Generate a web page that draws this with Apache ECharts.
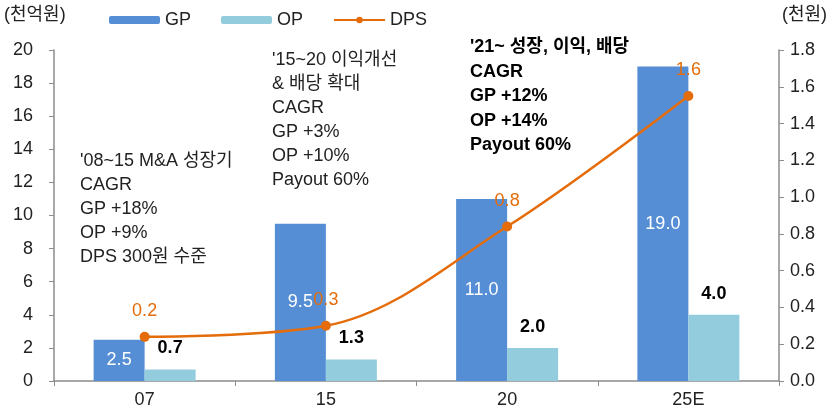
<!DOCTYPE html>
<html>
<head>
<meta charset="utf-8">
<script src="https://cdn.jsdelivr.net/npm/echarts@6/dist/echarts.min.js"></script>
<style>
html,body{margin:0;padding:0;background:#fff;}
#chart{width:829px;height:415px;}
</style>
</head>
<body>
<div id="chart"></div>
<script>
// 데이터
var categories = ['07', '15', '20', '25E'];
var gpData = [2.5, 9.5, 11.0, 19.0];
var opData = [0.7, 1.3, 2.0, 4.0];
var dpsData = [0.24, 0.30, 0.84, 1.55];
var leftTicks = [0, 20, 2];
var rightTicks = [0, 1.8, 0.2];
var note1 = ["'08~15 M&A 성장기", 'CAGR', 'GP +18%', 'OP +9%', 'DPS 300원 수준'];
var note2 = ["'15~20 이익개선", '& 배당 확대', 'CAGR', 'GP +3%', 'OP +10%', 'Payout 60%'];
var note3 = ["'21~ 성장, 이익, 배당", 'CAGR', 'GP +12%', 'OP +14%', 'Payout 60%'];

var FONT = 'Liberation Sans, Arial, "Noto Sans CJK KR", sans-serif';
var axisColor = '#8c8c8c';

var myChart = echarts.init(document.getElementById('chart'));
var option = {
	backgroundColor: '#fff',
	textStyle: { fontFamily: FONT },
	animation: false,
	grid: {
		left: 54,
		right: 50,
		top: 50,
		bottom: 34
	},
	legend: {
		top: 6,
		left: 104,
		itemWidth: 51,
		itemHeight: 8,
		itemGap: 30,
		textStyle: { fontSize: 18, color: '#222', fontFamily: FONT },
		data: ['GP', 'OP', 'DPS']
	},
	graphic: [
		{ type: 'text', left: 4, top: 6, style: { text: '(천억원)', fill: '#222', font: '18px ' + FONT } },
		{ type: 'text', right: 2, top: 6, style: { text: '(천원)', fill: '#222', font: '18px ' + FONT } },
		{ type: 'text', left: 80, top: 149, style: { text: note1.join('\n'), font: '18px ' + FONT, fill: '#222', lineHeight: 24 } },
		{ type: 'text', left: 272, top: 48, style: { text: note2.join('\n'), font: '18px ' + FONT, fill: '#222', lineHeight: 24 } },
		{ type: 'text', left: 470, top: 35, style: { text: note3.join('\n'), font: 'bold 18px ' + FONT, fill: '#000', lineHeight: 24.5 } }
	],
	xAxis: [{
		type: 'category',
		data: categories,
		axisLine: { lineStyle: { color: axisColor, width: 1.5 } },
		axisTick: { show: true, length: 5, lineStyle: { color: axisColor } },
		axisLabel: { fontSize: 18, color: '#222', margin: 10, fontFamily: FONT }
	}],
	yAxis: [
		{
			type: 'value',
			min: leftTicks[0],
			max: leftTicks[1],
			interval: leftTicks[2],
			splitLine: { show: false },
			axisLine: { show: true, lineStyle: { color: axisColor, width: 1.5 } },
			axisTick: { show: true, length: 5, lineStyle: { color: axisColor } },
			axisLabel: { fontSize: 18, color: '#222', margin: 21, fontFamily: FONT }
		},
		{
			type: 'value',
			min: rightTicks[0],
			max: rightTicks[1],
			interval: rightTicks[2],
			splitLine: { show: false },
			axisLine: { show: true, lineStyle: { color: axisColor, width: 1.5 } },
			axisTick: { show: true, length: 5, lineStyle: { color: axisColor } },
			axisLabel: {
				fontSize: 18, color: '#222', margin: 11, fontFamily: FONT,
				formatter: function (v) { return v.toFixed(1); }
			}
		}
	],
	series: [
		{
			name: 'GP',
			type: 'bar',
			data: gpData,
			barWidth: 51,
			barGap: '0%',
			itemStyle: { color: '#558ED5' },
			label: {
				show: true, position: 'inside', color: '#fff', fontSize: 18, fontFamily: FONT,
				formatter: function (p) { return p.value.toFixed(1); }
			}
		},
		{
			name: 'OP',
			type: 'bar',
			data: opData,
			barWidth: 51,
			barGap: '0%',
			itemStyle: { color: '#93CDDD' },
			label: {
				show: true, position: 'top', distance: 12, color: '#000', fontSize: 18, fontWeight: 'bold', fontFamily: FONT,
				formatter: function (p) { return p.value.toFixed(1); }
			}
		},
		{
			name: 'DPS',
			type: 'line',
			yAxisIndex: 1,
			data: dpsData,
			smooth: 0.35,
			symbol: 'circle',
			symbolSize: 10,
			lineStyle: { color: '#E46C0A', width: 2.5 },
			itemStyle: { color: '#E46C0A' },
			label: {
				show: true, position: 'top', distance: 12, color: '#E46C0A', fontSize: 18, fontFamily: FONT,
				formatter: function (p) { return p.value.toFixed(1); }
			}
		}
	]
};
myChart.setOption(option);
window.onresize = myChart.resize;
</script>
</body>
</html>
